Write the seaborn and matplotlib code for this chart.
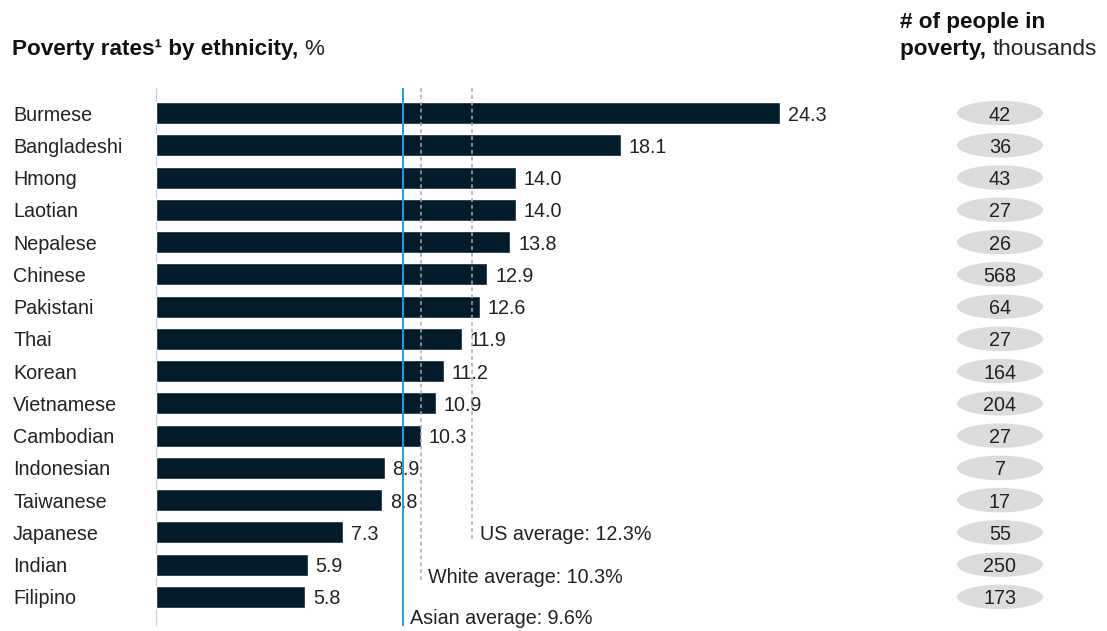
import matplotlib
matplotlib.use("Agg")
import matplotlib.pyplot as plt
import seaborn as sns
import pandas as pd
from matplotlib.patches import Ellipse

ethnicities = ["Burmese", "Bangladeshi", "Hmong", "Laotian", "Nepalese", "Chinese",
               "Pakistani", "Thai", "Korean", "Vietnamese", "Cambodian", "Indonesian",
               "Taiwanese", "Japanese", "Indian", "Filipino"]
poverty_rate = [24.3, 18.1, 14.0, 14.0, 13.8, 12.9, 12.6, 11.9, 11.2, 10.9, 10.3, 8.9,
                8.8, 7.3, 5.9, 5.8]
people_thousands = [42, 36, 43, 27, 26, 568, 64, 27, 164, 204, 27, 7, 17, 55, 250, 173]
avg_labels = ["US average", "White average", "Asian average"]
avg_values = [12.3, 10.3, 9.6]

sns.set_theme(style="white")
plt.rcParams["font.family"] = ["Liberation Sans", "DejaVu Sans"]

TXT = "#222222"
HEAD = "#111111"
NAVY = "#031c2c"
FS = 14.2
W, H = 1107, 631
fig = plt.figure(figsize=(W / 100, H / 100), dpi=100)
renderer = fig.canvas.get_renderer()

top_px, bot_px, left_px, right_px = 88, 626, 156, 880
ax = fig.add_axes([left_px / W, 1 - bot_px / H, (right_px - left_px) / W, (bot_px - top_px) / H])

df = pd.DataFrame({"eth": ethnicities, "rate": poverty_rate})
sns.barplot(data=df, y="eth", x="rate", orient="h", color=NAVY, width=0.68,
            saturation=1, ax=ax)
ax.set_xlim(0, (right_px - left_px) / 25.68)
ax.set_ylim(15.9, -0.775)
for s in ax.spines.values():
    s.set_visible(False)
ax.set_xlabel("")
ax.set_ylabel("")
ax.set_xticks([])
ax.tick_params(axis="y", length=0, pad=(left_px - 13) * 0.72)
for lbl in ax.get_yticklabels():
    lbl.set_ha("left")
    lbl.set_va("center_baseline")
    lbl.set_fontsize(FS)
    lbl.set_color(TXT)

# value labels
for i, v in enumerate(poverty_rate):
    ax.text(v + 0.31, i, f"{v:.1f}", va="center_baseline", ha="left", fontsize=FS, color=TXT)

# zero axis line
ax.axvline(0, color="#cfcfcf", lw=1.6, zorder=0)

# average lines
line_ends = [13.23, 14.53, 15.9]
label_y = [13.0, 14.35, 15.62]
styles = [dict(color="#a9a9a9", lw=1.1, ls=(0, (2.5, 2))),
          dict(color="#a9a9a9", lw=1.1, ls=(0, (2.5, 2))),
          dict(color="#1f9ee0", lw=1.4, ls="-")]
for name, val, yend, ly, st in zip(avg_labels, avg_values, line_ends, label_y, styles):
    ax.plot([val, val], [-0.775, yend], zorder=3, **st)
    ax.text(val + 0.3, ly, f"{name}: {val:.1f}%", va="center_baseline", ha="left",
            fontsize=FS, color=TXT)

# right column: ellipses
ax2 = fig.add_axes([940 / W, 1 - bot_px / H, 120 / W, (bot_px - top_px) / H])
ax2.set_xlim(0, 1)
ax2.set_ylim(15.9, -0.775)
ax2.axis("off")
for i, n in enumerate(people_thousands):
    ax2.add_patch(Ellipse((0.5, i), 0.717, 0.76, facecolor="#dcdcdc", edgecolor="none"))
    ax2.text(0.5, i, f"{n}", ha="center", va="center_baseline", fontsize=FS, color=TXT)


def run(parts, x_px, y_px):
    """Place consecutive text pieces (text, fontsize, weight, color) on one line."""
    x = x_px
    for txt, fs, wt, col in parts:
        t = fig.text(x / W, 1 - y_px / H, txt, fontsize=fs, fontweight=wt, color=col,
                     va="center_baseline", ha="left")
        bb = t.get_window_extent(renderer)
        x = bb.x1


TFS = 16.2
run([("Poverty rates\u00b9 by ethnicity, ", TFS, "bold", HEAD), ("%", TFS, "normal", TXT)], 12, 47)
run([("# of people in", TFS, "bold", HEAD)], 900, 20)
run([("poverty, ", TFS, "bold", HEAD), ("thousands", TFS, "normal", TXT)], 900, 47)

fig.savefig("out.png", dpi=100)
